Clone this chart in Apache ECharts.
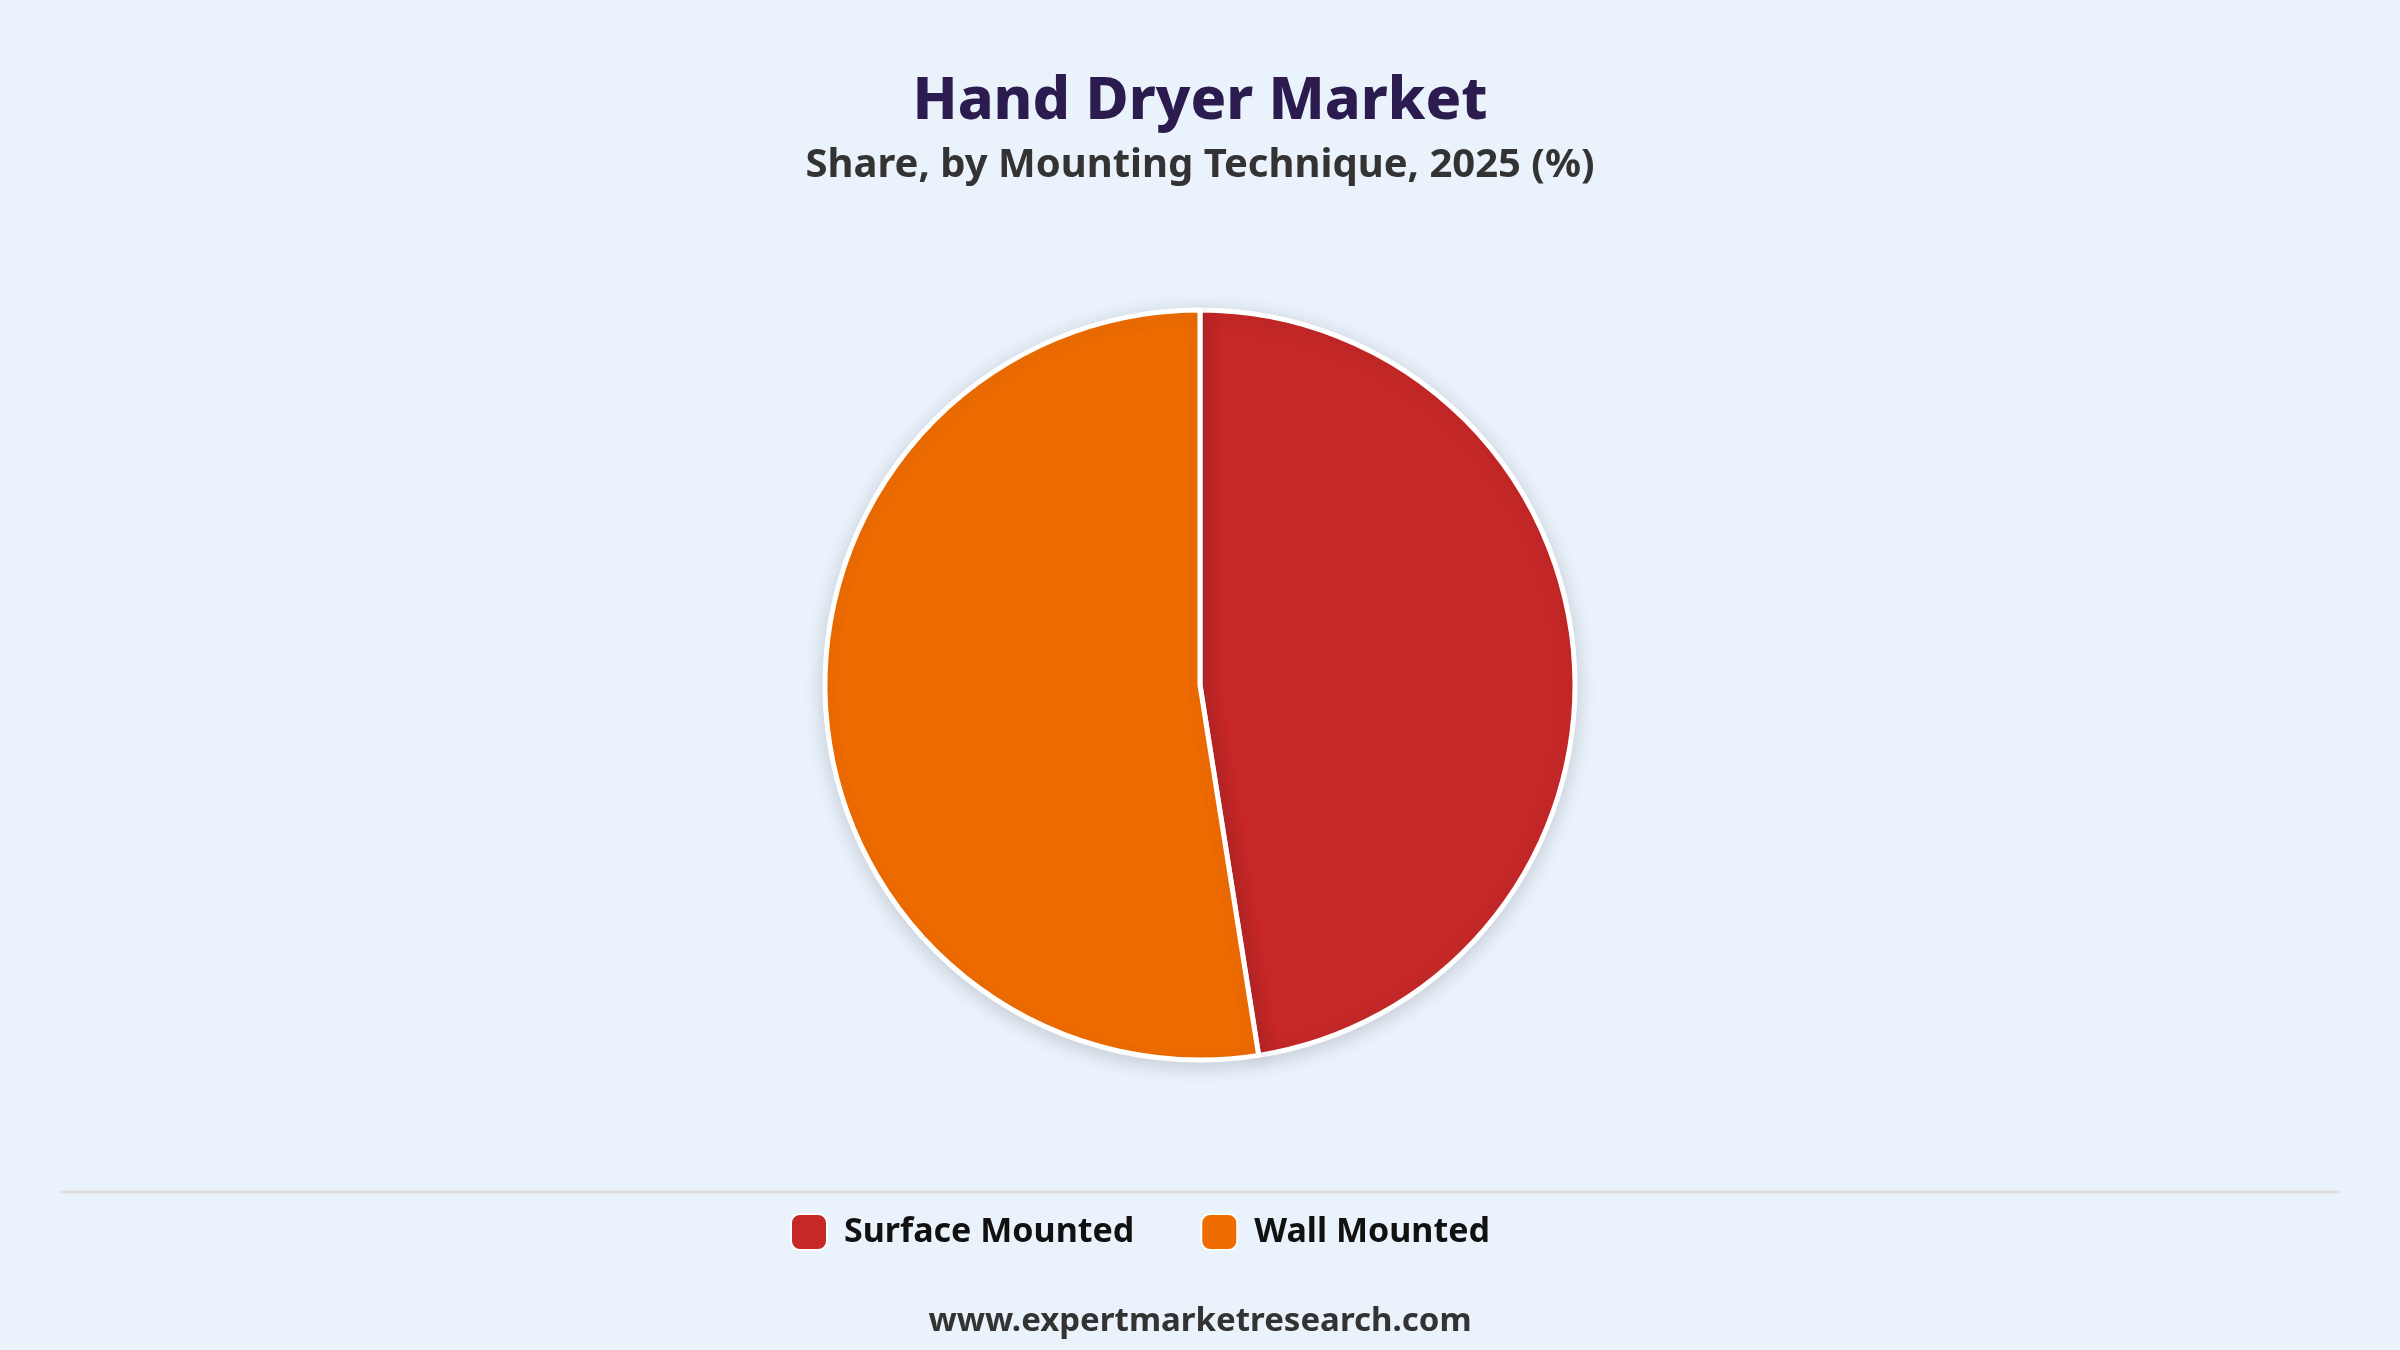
<!DOCTYPE html>
<html>
<head>
<meta charset="utf-8">
<title>Hand Dryer Market</title>
<script src="https://cdn.jsdelivr.net/npm/echarts@6/dist/echarts.min.js"></script>
<style>
  html, body { margin: 0; padding: 0; background: #eaf2fc; }
  #main { width: 2400px; height: 1350px; }
</style>
</head>
<body>
<div id="main"></div>
<script>
// data
var categories = ['Surface Mounted', 'Wall Mounted'];
var shares = [47.5, 52.5];
var colors = ['#c62828', '#ef6c00'];

var pieData = [];
for (var i = 0; i < categories.length; i++) {
    pieData.push({ name: categories[i], value: shares[i], itemStyle: { color: colors[i] } });
}

var myChart = echarts.init(document.getElementById('main'));
var option = {
    backgroundColor: '#eaf2fc',
    animation: false,
    textStyle: { fontFamily: 'Noto Sans' },
    title: [
        {
            text: 'Hand Dryer Market',
            left: 'center',
            top: 68,
            textStyle: { fontSize: 59, fontWeight: 800, color: '#2c1b4f', fontFamily: 'Noto Sans' }
        },
        {
            text: 'Share, by Mounting Technique, 2025 (%)',
            left: 'center',
            top: 141,
            textStyle: { fontSize: 40, fontWeight: 'bold', color: '#333333', fontFamily: 'Noto Sans' }
        },
        {
            text: 'www.expertmarketresearch.com',
            left: 'center',
            top: 1300,
            textStyle: { fontSize: 33, fontWeight: 'bold', color: '#333333', fontFamily: 'Noto Sans' }
        }
    ],
    legend: {
        data: categories,
        left: 785,
        top: 1208,
        itemWidth: 36,
        itemHeight: 36,
        itemGap: 66,
        icon: 'roundRect',
        textStyle: {
            fontSize: 34,
            fontWeight: 'bold',
            color: '#111111',
            fontFamily: 'Noto Sans',
            padding: [0, 0, 0, 12]
        }
    },
    graphic: [
        {
            type: 'line',
            shape: { x1: 61, y1: 1192, x2: 2339, y2: 1192 },
            style: { stroke: '#dddddd', lineWidth: 3 }
        }
    ],
    series: [{
        name: 'Share',
        type: 'pie',
        center: [1200, 685],
        radius: 375,
        startAngle: 90,
        clockwise: true,
        label: { show: false },
        labelLine: { show: false },
        itemStyle: {
            borderColor: '#ffffff',
            borderWidth: 5,
            shadowBlur: 20,
            shadowColor: 'rgba(0,0,0,0.15)',
            shadowOffsetY: 4
        },
        data: pieData
    }]
};
myChart.setOption(option);
</script>
</body>
</html>
